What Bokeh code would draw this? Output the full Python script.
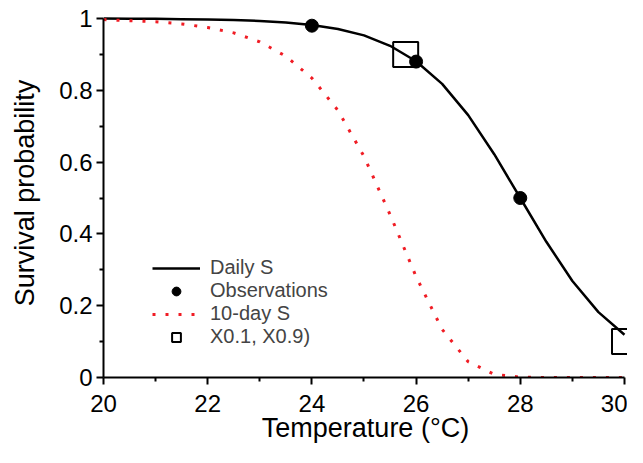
from bokeh.plotting import figure
from bokeh.models import Range1d, FixedTicker, Legend, LegendItem
from bokeh.embed import file_html
from bokeh.resources import INLINE

# Temperatures (°C)
temp = [20, 20.5, 21, 21.5, 22, 22.5, 23, 23.5, 24, 24.5, 25,
        25.5, 26, 26.5, 27, 27.5, 28, 28.5, 29, 29.5, 30]
# Daily survival probability
daily_s = [1.0, 0.999, 0.999, 0.998, 0.997, 0.996, 0.993, 0.989, 0.982, 0.971, 0.953,
           0.924, 0.881, 0.818, 0.731, 0.622, 0.5, 0.378, 0.269, 0.182, 0.119]
# 10-day survival probability
ten_day_s = [0.997, 0.994, 0.991, 0.985, 0.975, 0.960, 0.935, 0.895, 0.834, 0.744, 0.616,
             0.454, 0.281, 0.134, 0.044, 0.009, 0.001, 0.0, 0.0, 0.0, 0.0]
# Observations
obs_temp = [24, 26, 28]
obs_s = [0.98, 0.88, 0.5]
# X0.1, X0.9 points
x_temp = [25.8, 30]
x_s = [0.9, 0.1]

x_major = [20, 22, 24, 26, 28, 30]
x_minor = [21, 23, 25, 27, 29]
y_major = [0, 0.2, 0.4, 0.6, 0.8, 1]
y_minor = [0.1, 0.3, 0.5, 0.7, 0.9]
y_labels = {0: "0", 0.2: "0.2", 0.4: "0.4", 0.6: "0.6", 0.8: "0.8", 1: "1"}

FONT = "Liberation Sans"

p = figure(width=627, height=447, output_backend="svg", toolbar_location=None,
           x_range=Range1d(20, 30.058), y_range=Range1d(0, 1.0279),
           min_border_left=103, min_border_right=0, min_border_top=8, min_border_bottom=70)
p.outline_line_color = None
p.grid.visible = False

r_daily = p.line(temp, daily_s, line_color="black", line_width=2.5)
r_obs = p.scatter(obs_temp, obs_s, size=13, color="black")
r_ten = p.line(temp, ten_day_s, line_color="#f01c24", line_width=3, line_dash="3 10")
r_x = p.scatter(x_temp, x_s, marker="square", size=25, fill_color=None,
                line_color="black", line_width=2)

for ax, maj, mn in ((p.xaxis, x_major, x_minor), (p.yaxis, y_major, y_minor)):
    ax.ticker = FixedTicker(ticks=maj, minor_ticks=mn)
    ax.axis_line_width = 2
    ax.major_tick_line_width = 2
    ax.minor_tick_line_width = 2
    ax.major_tick_in = 0
    ax.major_tick_out = 7
    ax.minor_tick_in = 0
    ax.minor_tick_out = 4
    ax.major_label_text_font = FONT
    ax.major_label_text_font_size = "24px"
    ax.major_label_text_color = "black"
    ax.axis_label_text_font = FONT
    ax.axis_label_text_font_size = "27px"
    ax.axis_label_text_font_style = "normal"
    ax.axis_label_text_color = "black"

p.xaxis.bounds = (20, 30)
p.yaxis.bounds = (0, 1)
p.yaxis.major_label_overrides = y_labels
p.xaxis.axis_label = "Temperature (°C)"
p.yaxis.axis_label = "Survival probability"
p.xaxis.major_label_standoff = 10
p.yaxis.major_label_standoff = 4
p.xaxis.axis_label_standoff = -2
p.yaxis.axis_label_standoff = 16

legend = Legend(items=[
    LegendItem(label="Daily S", renderers=[r_daily]),
    LegendItem(label="Observations", renderers=[r_obs]),
    LegendItem(label="10-day S", renderers=[r_ten]),
    LegendItem(label="X0.1, X0.9)", renderers=[r_x]),
], location=(49, 29), background_fill_alpha=0, border_line_color=None,
   label_text_font=FONT, label_text_font_size="20px", glyph_width=48, glyph_height=22,
   label_height=20, spacing=0, padding=0, margin=0, label_standoff=10)
p.add_layout(legend)

open("out.html", "w").write(file_html(p, INLINE))
